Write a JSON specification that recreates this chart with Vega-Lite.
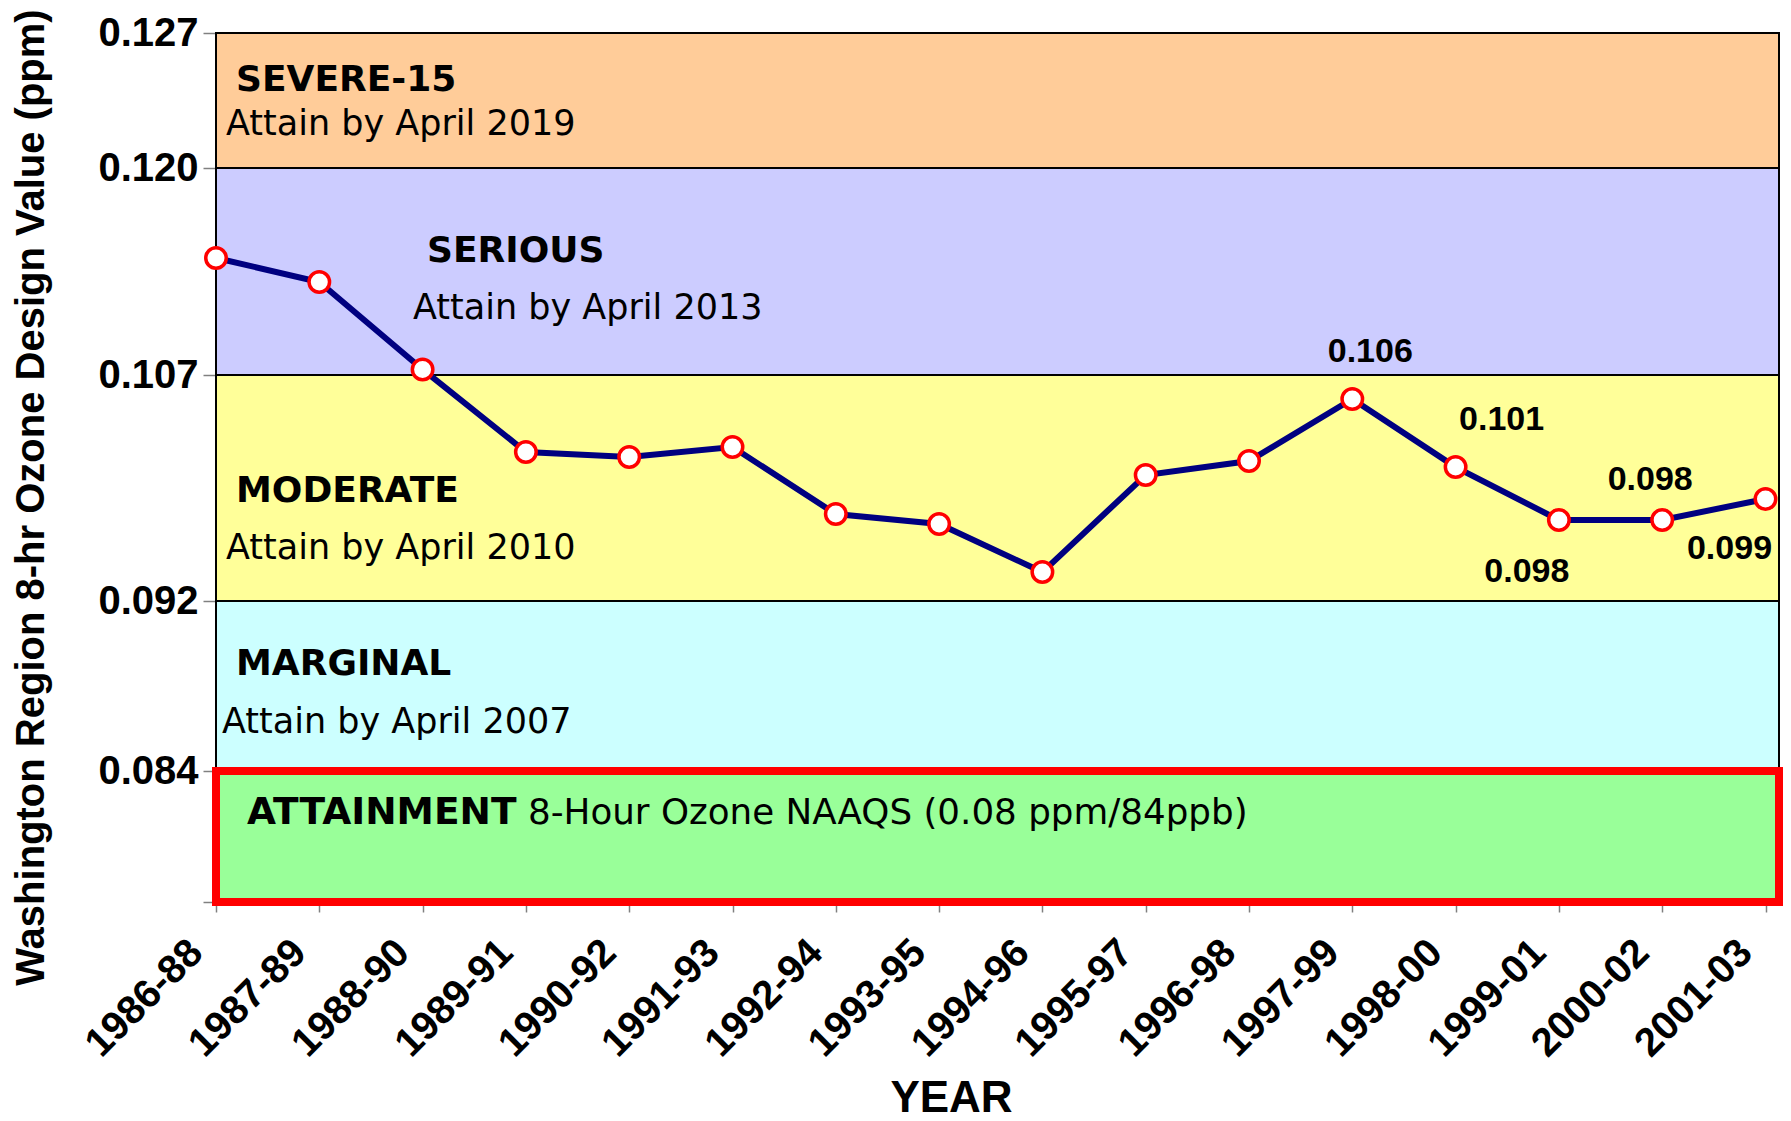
{
  "$schema": "https://vega.github.io/schema/vega-lite/v6.json",
  "width": 1563,
  "height": 869,
  "autosize": {"type": "none"},
  "padding": {"left": 216, "top": 33, "right": 12, "bottom": 219},
  "background": "white",
  "config": {"view": {"stroke": null}, "font": "Liberation Sans"},
  "datasets": {
    "bands": [
      {"band": "SEVERE-15", "deadline": "Attain by April 2019", "lo": 0.120, "hi": 0.127},
      {"band": "SERIOUS", "deadline": "Attain by April 2013", "lo": 0.107, "hi": 0.120},
      {"band": "MODERATE", "deadline": "Attain by April 2010", "lo": 0.092, "hi": 0.107},
      {"band": "MARGINAL", "deadline": "Attain by April 2007", "lo": 0.084, "hi": 0.092},
      {"band": "ATTAINMENT", "deadline": "8-Hour Ozone NAAQS (0.08 ppm/84ppb)", "lo": 0.076, "hi": 0.084}
    ],
    "ozone": [
      {"period": "1986-88", "value": 0.11435, "label": ""},
      {"period": "1987-89", "value": 0.11284, "label": ""},
      {"period": "1988-90", "value": 0.10735, "label": ""},
      {"period": "1989-91", "value": 0.10189, "label": ""},
      {"period": "1990-92", "value": 0.10156, "label": ""},
      {"period": "1991-93", "value": 0.10222, "label": ""},
      {"period": "1992-94", "value": 0.09777, "label": ""},
      {"period": "1993-95", "value": 0.09711, "label": ""},
      {"period": "1994-96", "value": 0.09392, "label": ""},
      {"period": "1995-97", "value": 0.10036, "label": ""},
      {"period": "1996-98", "value": 0.10129, "label": ""},
      {"period": "1997-99", "value": 0.10541, "label": "0.106"},
      {"period": "1998-00", "value": 0.10089, "label": "0.101"},
      {"period": "1999-01", "value": 0.09738, "label": "0.098"},
      {"period": "2000-02", "value": 0.09738, "label": "0.098"},
      {"period": "2001-03", "value": 0.09877, "label": "0.099"}
    ]
  },
  "layer": [
    {
      "data": {"name": "bands"},
      "transform": [{"filter": "datum.band !== 'ATTAINMENT'"}],
      "mark": {"type": "rect", "stroke": "black", "strokeWidth": 2},
      "encoding": {
        "y": {
          "field": "lo", "type": "quantitative",
          "scale": {"type": "linear", "domain": [0.076, 0.084, 0.092, 0.107, 0.120, 0.127], "range": [869, 738, 568, 342, 135, 0], "nice": false, "zero": false},
          "axis": {
            "values": [0.076, 0.084, 0.092, 0.107, 0.120, 0.127],
            "labelExpr": "datum.value < 0.08 ? '' : format(datum.value, '.3f')",
            "labelFont": "Liberation Sans", "labelFontWeight": "bold", "labelFontSize": 40, "labelColor": "black",
            "labelPadding": 5, "tickSize": 13, "tickColor": "#808080", "tickWidth": 1.5,
            "domain": false, "grid": false,
            "title": "Washington Region 8-hr Ozone Design Value (ppm)",
            "titleFont": "Liberation Sans", "titleFontWeight": "bold", "titleFontSize": 40, "titleColor": "black",
            "titleX": -173, "titleY": 464, "titleAngle": -90, "titleAlign": "center", "titleBaseline": "alphabetic"
          }
        },
        "y2": {"field": "hi"},
        "fill": {
          "field": "band", "type": "nominal", "legend": null,
          "scale": {"domain": ["SEVERE-15", "SERIOUS", "MODERATE", "MARGINAL", "ATTAINMENT"], "range": ["#FFCC99", "#CCCCFF", "#FFFF99", "#CCFFFF", "#99FF99"]}
        }
      }
    },
    {
      "data": {"name": "bands"},
      "transform": [{"filter": "datum.band === 'ATTAINMENT'"}],
      "mark": {"type": "rect", "stroke": "#FF0000", "strokeWidth": 8},
      "encoding": {
        "y": {"field": "lo", "type": "quantitative"},
        "y2": {"field": "hi"},
        "fill": {"field": "band", "type": "nominal", "legend": null}
      }
    },
    {
      "data": {"name": "bands"},
      "transform": [{"filter": "datum.band === 'SEVERE-15'"}],
      "mark": {"type": "text", "font": "DejaVu Sans", "fontWeight": "bold", "fontSize": 36, "align": "left", "baseline": "middle", "dx": 20, "dy": 47, "color": "black"},
      "encoding": {"x": {"datum": "1986-88", "type": "ordinal"}, "y": {"field": "hi", "type": "quantitative"}, "text": {"field": "band"}}
    },
    {
      "data": {"name": "bands"},
      "transform": [{"filter": "datum.band === 'SEVERE-15'"}],
      "mark": {"type": "text", "font": "DejaVu Sans", "fontSize": 35, "align": "left", "baseline": "middle", "dx": 10, "dy": 91, "color": "black"},
      "encoding": {"x": {"datum": "1986-88", "type": "ordinal"}, "y": {"field": "hi", "type": "quantitative"}, "text": {"field": "deadline"}}
    },
    {
      "data": {"name": "bands"},
      "transform": [{"filter": "datum.band === 'SERIOUS'"}],
      "mark": {"type": "text", "font": "DejaVu Sans", "fontWeight": "bold", "fontSize": 36, "align": "left", "baseline": "middle", "dx": 211, "dy": 83, "color": "black"},
      "encoding": {"x": {"datum": "1986-88", "type": "ordinal"}, "y": {"field": "hi", "type": "quantitative"}, "text": {"field": "band"}}
    },
    {
      "data": {"name": "bands"},
      "transform": [{"filter": "datum.band === 'SERIOUS'"}],
      "mark": {"type": "text", "font": "DejaVu Sans", "fontSize": 35, "align": "left", "baseline": "middle", "dx": 197, "dy": 140, "color": "black"},
      "encoding": {"x": {"datum": "1986-88", "type": "ordinal"}, "y": {"field": "hi", "type": "quantitative"}, "text": {"field": "deadline"}}
    },
    {
      "data": {"name": "bands"},
      "transform": [{"filter": "datum.band === 'MODERATE'"}],
      "mark": {"type": "text", "font": "DejaVu Sans", "fontWeight": "bold", "fontSize": 36, "align": "left", "baseline": "middle", "dx": 20, "dy": 116, "color": "black"},
      "encoding": {"x": {"datum": "1986-88", "type": "ordinal"}, "y": {"field": "hi", "type": "quantitative"}, "text": {"field": "band"}}
    },
    {
      "data": {"name": "bands"},
      "transform": [{"filter": "datum.band === 'MODERATE'"}],
      "mark": {"type": "text", "font": "DejaVu Sans", "fontSize": 35, "align": "left", "baseline": "middle", "dx": 10, "dy": 173, "color": "black"},
      "encoding": {"x": {"datum": "1986-88", "type": "ordinal"}, "y": {"field": "hi", "type": "quantitative"}, "text": {"field": "deadline"}}
    },
    {
      "data": {"name": "bands"},
      "transform": [{"filter": "datum.band === 'MARGINAL'"}],
      "mark": {"type": "text", "font": "DejaVu Sans", "fontWeight": "bold", "fontSize": 36, "align": "left", "baseline": "middle", "dx": 20, "dy": 63, "color": "black"},
      "encoding": {"x": {"datum": "1986-88", "type": "ordinal"}, "y": {"field": "hi", "type": "quantitative"}, "text": {"field": "band"}}
    },
    {
      "data": {"name": "bands"},
      "transform": [{"filter": "datum.band === 'MARGINAL'"}],
      "mark": {"type": "text", "font": "DejaVu Sans", "fontSize": 35, "align": "left", "baseline": "middle", "dx": 6, "dy": 121, "color": "black"},
      "encoding": {"x": {"datum": "1986-88", "type": "ordinal"}, "y": {"field": "hi", "type": "quantitative"}, "text": {"field": "deadline"}}
    },
    {
      "data": {"name": "bands"},
      "transform": [{"filter": "datum.band === 'ATTAINMENT'"}],
      "mark": {"type": "text", "font": "DejaVu Sans", "fontWeight": "bold", "fontSize": 37.5, "align": "left", "baseline": "middle", "dx": 31, "dy": 42, "color": "black"},
      "encoding": {"x": {"datum": "1986-88", "type": "ordinal"}, "y": {"field": "hi", "type": "quantitative"}, "text": {"field": "band"}}
    },
    {
      "data": {"name": "bands"},
      "transform": [{"filter": "datum.band === 'ATTAINMENT'"}],
      "mark": {"type": "text", "font": "DejaVu Sans", "fontSize": 35.7, "align": "left", "baseline": "middle", "dx": 312, "dy": 42, "color": "black"},
      "encoding": {"x": {"datum": "1986-88", "type": "ordinal"}, "y": {"field": "hi", "type": "quantitative"}, "text": {"field": "deadline"}}
    },
    {
      "data": {"name": "ozone"},
      "mark": {"type": "line", "color": "#000080", "strokeWidth": 6},
      "encoding": {
        "x": {
          "field": "period", "type": "ordinal",
          "scale": {"type": "point", "range": [0, 1549.5], "padding": 0},
          "axis": {
            "labelAngle": -45, "labelAlign": "right", "labelBaseline": "middle", "labelOffset": -20,
            "labelFont": "Liberation Sans", "labelFontWeight": "bold", "labelFontSize": 40, "labelColor": "black",
            "labelPadding": 34, "tickSize": 10, "tickColor": "#808080", "tickWidth": 1.5, "domain": false, "grid": false,
            "title": "YEAR", "titleFont": "Liberation Sans", "titleFontWeight": "bold", "titleFontSize": 44, "titleColor": "black",
            "titleX": 735, "titleY": 209, "titleAlign": "center", "titleBaseline": "alphabetic"
          }
        },
        "y": {"field": "value", "type": "quantitative"}
      }
    },
    {
      "data": {"name": "ozone"},
      "mark": {"type": "point", "shape": "circle", "filled": true, "fill": "white", "stroke": "#FF0000", "strokeWidth": 3.5, "size": 420, "opacity": 1},
      "encoding": {
        "x": {"field": "period", "type": "ordinal"},
        "y": {"field": "value", "type": "quantitative"}
      }
    },
    {
      "data": {"name": "ozone"},
      "transform": [{"filter": "datum.period === '1997-99'"}],
      "mark": {"type": "text", "fontWeight": "bold", "fontSize": 34, "align": "center", "baseline": "middle", "dx": 18, "dy": -47, "color": "black"},
      "encoding": {"x": {"field": "period", "type": "ordinal"}, "y": {"field": "value", "type": "quantitative"}, "text": {"field": "label"}}
    },
    {
      "data": {"name": "ozone"},
      "transform": [{"filter": "datum.period === '1998-00'"}],
      "mark": {"type": "text", "fontWeight": "bold", "fontSize": 34, "align": "center", "baseline": "middle", "dx": 46, "dy": -47, "color": "black"},
      "encoding": {"x": {"field": "period", "type": "ordinal"}, "y": {"field": "value", "type": "quantitative"}, "text": {"field": "label"}}
    },
    {
      "data": {"name": "ozone"},
      "transform": [{"filter": "datum.period === '1999-01'"}],
      "mark": {"type": "text", "fontWeight": "bold", "fontSize": 34, "align": "center", "baseline": "middle", "dx": -32, "dy": 52, "color": "black"},
      "encoding": {"x": {"field": "period", "type": "ordinal"}, "y": {"field": "value", "type": "quantitative"}, "text": {"field": "label"}}
    },
    {
      "data": {"name": "ozone"},
      "transform": [{"filter": "datum.period === '2000-02'"}],
      "mark": {"type": "text", "fontWeight": "bold", "fontSize": 34, "align": "center", "baseline": "middle", "dx": -12, "dy": -40, "color": "black"},
      "encoding": {"x": {"field": "period", "type": "ordinal"}, "y": {"field": "value", "type": "quantitative"}, "text": {"field": "label"}}
    },
    {
      "data": {"name": "ozone"},
      "transform": [{"filter": "datum.period === '2001-03'"}],
      "mark": {"type": "text", "fontWeight": "bold", "fontSize": 34, "align": "center", "baseline": "middle", "dx": -36, "dy": 50, "color": "black"},
      "encoding": {"x": {"field": "period", "type": "ordinal"}, "y": {"field": "value", "type": "quantitative"}, "text": {"field": "label"}}
    }
  ]
}
